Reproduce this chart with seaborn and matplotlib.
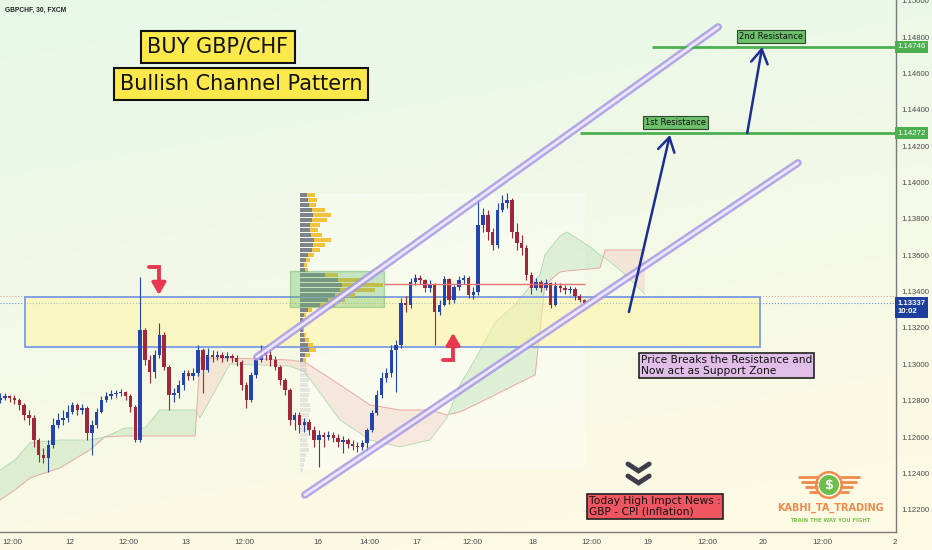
import numpy as np
import pandas as pd
import matplotlib.pyplot as plt
import matplotlib.patches as mpatches
import seaborn as sns

sns.set_theme(style="white")
plt.rcParams['font.family'] = ['DejaVu Sans']

# GBPCHF candles (1h), prices in points (1e-5)
close_pts = [112815, 112826, 112815, 112804, 112777, 112722, 112705, 112584, 112502, 112485,
             112557, 112667, 112694, 112705, 112738, 112777, 112749, 112760, 112623, 112667,
             112738, 112804, 112826, 112837, 112843, 112848, 112826, 112766, 112584, 113189,
             113024, 112958, 113052, 113162, 112986, 112832, 112843, 112887, 112953, 112936,
             112953, 113079, 112969, 113052, 113041, 113052, 113035, 113046, 113035, 113013,
             112887, 112804, 112942, 113024, 113068, 113052, 113024, 112986, 112914, 112859,
             112694, 112722, 112667, 112683, 112639, 112584, 112612, 112601, 112612, 112595,
             112573, 112584, 112562, 112551, 112546, 112568, 112639, 112733, 112832, 112925,
             112953, 113079, 113107, 113338, 113327, 113453, 113475, 113464, 113420, 113437,
             113288, 113327, 113470, 113354, 113426, 113464, 113475, 113382, 113398, 113767,
             113822, 113728, 113657, 113849, 113888, 113904, 113728, 113668, 113640, 113492,
             113420, 113453, 113420, 113448, 113327, 113431, 113420, 113409, 113415, 113376,
             113354, 113338]
high_pts = [112843, 112843, 112832, 112832, 112815, 112788, 112749, 112722, 112595, 112540,
            112584, 112705, 112733, 112749, 112777, 112793, 112788, 112782, 112771, 112694,
            112760, 112826, 112848, 112859, 112859, 112865, 112854, 112837, 112777, 113481,
            113200, 113052, 113079, 113228, 113178, 112997, 112870, 112914, 112969, 112969,
            112980, 113107, 113090, 113090, 113079, 113074, 113068, 113068, 113057, 113052,
            113024, 112903, 112958, 113041, 113107, 113090, 113079, 113046, 112997, 112925,
            112870, 112738, 112738, 112705, 112700, 112661, 112639, 112628, 112634, 112628,
            112617, 112606, 112595, 112584, 112573, 112584, 112650, 112749, 112859, 112958,
            112980, 113107, 113134, 113365, 113376, 113475, 113497, 113492, 113470, 113464,
            113448, 113354, 113486, 113475, 113437, 113486, 113492, 113486, 113426, 113932,
            113860, 113849, 113750, 113888, 113932, 113943, 113915, 113778, 113712, 113657,
            113508, 113475, 113464, 113470, 113453, 113453, 113448, 113437, 113431, 113426,
            113387, 113360]
low_pts = [112788, 112804, 112793, 112782, 112749, 112694, 112667, 112546, 112463, 112458,
           112408, 112540, 112650, 112667, 112683, 112727, 112722, 112727, 112584, 112502,
           112650, 112733, 112793, 112810, 112821, 112826, 112804, 112738, 112573, 112573,
           112997, 112898, 112925, 113035, 112969, 112749, 112793, 112815, 112859, 112914,
           112914, 112936, 112843, 112958, 113013, 113024, 113013, 113019, 113013, 112991,
           112859, 112760, 112793, 112925, 113013, 113024, 112991, 112969, 112887, 112832,
           112667, 112639, 112623, 112628, 112612, 112546, 112436, 112546, 112584, 112573,
           112546, 112513, 112540, 112529, 112518, 112529, 112529, 112628, 112722, 112815,
           112903, 112931, 112848, 113090, 113288, 113310, 113437, 113442, 113398, 113398,
           113107, 113272, 113321, 113332, 113338, 113409, 113442, 113365, 113360, 113382,
           113728, 113684, 113629, 113640, 113838, 113860, 113695, 113629, 113602, 113464,
           113387, 113409, 113398, 113409, 113310, 113321, 113398, 113387, 113393, 113354,
           113343, 113332]
first_open_pts = 112804

# ichimoku cloud (x in hours)
cloud_x = [0, 3.1, 6.2, 12.4, 18.6, 21.7, 25.9, 30.0, 33.1, 40.4, 41.4, 47.6, 60.0, 63.1,
           70.4, 76.6, 82.8, 89.0, 92.5, 95.2, 98.3, 102.5, 106.6, 110.8, 111.8, 112.8,
           115.9, 117.4, 122.2, 124.2, 125.3, 128.4, 133.5]
span_a_pts = [112419, 112474, 112568, 112584, 112584, 112601, 112650, 112650, 112749, 112749,
              112705, 113002, 112991, 112958, 112694, 112584, 112546, 112584, 112705, 112887,
              113024, 113233, 113327, 113464, 113492, 113602, 113706, 113728, 113646, 113602,
              113585, 113519, 113387]
span_b_pts = [112254, 112309, 112375, 112430, 112529, 112601, 112606, 112606, 112606, 112606,
              113035, 113035, 113024, 113013, 112887, 112777, 112749, 112749, 112722, 112738,
              112777, 112832, 112887, 112942, 113189, 113437, 113508, 113514, 113525, 113530,
              113629, 113629, 113629]

# volume profile rows (top -> bottom)
vp_down = [7, 8, 9, 12, 13, 12, 10, 10, 11, 14, 13, 12, 8, 6, 4, 5, 25, 38, 42, 40,
           35, 28, 20, 8, 4, 3, 3, 3, 4, 5, 8, 9, 5, 3]
vp_up = [8, 9, 7, 13, 18, 15, 10, 8, 11, 17, 12, 8, 6, 4, 3, 3, 13, 27, 41, 35,
         20, 17, 15, 4, 2, 2, 2, 1, 2, 4, 5, 7, 5, 3]
vp_faint = [6, 7, 8, 9, 8, 10, 9, 8, 10, 11, 9, 8, 10, 9, 8, 7, 8, 9, 6, 5, 4, 3]

# levels and drawings
res1, res2 = 1.14272, 1.14746
last_price = 1.13337
poc = 1.13442
zone_top, zone_bot = 1.13371, 1.13096
upper_ch_x, upper_ch_y = [53.2, 148.7], [1.13041, 1.14856]
lower_ch_x, lower_ch_y = [63.1, 165.2], [1.12282, 1.14108]
chevron_x = [130.0, 132.2, 134.4]
chevron_y = [[1.12452, 1.12414, 1.12452], [1.12386, 1.12348, 1.12386]]

xtick_pos = [2.5, 14.5, 26.5, 38.5, 50.5, 65.8, 76.4, 86.3, 97.9, 110.4, 122.4, 134.2,
             146.4, 158.0, 170.2, 185.3]
xtick_lab = ['12:00', '12', '12:00', '13', '12:00', '16', '14:00', '17', '12:00', '18',
             '12:00', '19', '12:00', '20', '12:00', '2']

axis_font = ['Liberation Sans', 'DejaVu Sans']

df = pd.DataFrame({'close': np.array(close_pts) / 1e5,
                   'hi': np.array(high_pts) / 1e5,
                   'lo': np.array(low_pts) / 1e5})
df['open'] = df['close'].shift(1).fillna(first_open_pts / 1e5)
df['high'] = df[['hi', 'open', 'close']].max(axis=1)
df['low'] = df[['lo', 'open', 'close']].min(axis=1)
df['x'] = np.arange(len(df))

fig = plt.figure(figsize=(9.32, 5.5), dpi=100)

# background gradient
bg = fig.add_axes([0, 0, 1, 1], zorder=-5)
gy = np.linspace(0, 1, 200)[:, None]
gx = np.linspace(0, 1, 200)[None, :]
t = np.clip(gy * 0.85 + gx * 0.25, 0, 1)
top = np.array([231, 248, 233]) / 255
bot = np.array([253, 250, 228]) / 255
img = top * (1 - t[..., None]) + bot * t[..., None]
bg.imshow(img, aspect='auto', extent=[0, 1, 0, 1], origin='upper')
bg.axis('off')

ax = fig.add_axes([0, 18 / 550, 896 / 932, 532 / 550])
ax.patch.set_alpha(0)
ax.set_xlim(0, 185.5)
ax.set_ylim(1.12078, 1.15004)

# profile range shading
ax.add_patch(mpatches.Rectangle((62.1, 1.12419), 59.0, 1.13943 - 1.12419,
                                fc='white', alpha=0.35, ec='none', zorder=0.5))

# ichimoku cloud
a = np.array(span_a_pts) / 1e5
b = np.array(span_b_pts) / 1e5
ax.fill_between(cloud_x, a, b, where=a >= b, interpolate=True, color='#81c784', alpha=0.22, lw=0, zorder=1)
ax.fill_between(cloud_x, a, b, where=a < b, interpolate=True, color='#e57373', alpha=0.14, lw=0, zorder=1)
ax.plot(cloud_x, b, color='#e6aaa4', lw=0.7, zorder=1.1)
ax.plot(cloud_x, a, color='#b2d9aa', lw=0.6, zorder=1.1)

# support zone
ax.add_patch(mpatches.Rectangle((5.2, zone_bot), 152.1, zone_top - zone_bot,
                                fc='#fff59d', alpha=0.5, ec='none', zorder=1.5))
ax.add_patch(mpatches.Rectangle((5.2, zone_bot), 152.1, zone_top - zone_bot,
                                fill=False, ec='#7b9ce6', lw=1.3, zorder=1.6))
ax.axhline(1.13378, color='#e0a0a0', ls=':', lw=0.8, zorder=1.4)
ax.axhline(last_price, color='#6d8fe0', ls=':', lw=0.8, zorder=1.4)

# volume profile
lv = np.linspace(1.13932, 1.13024, len(vp_down))
sc = 1 / 4.83
dn = np.array(vp_down) * sc
upv = np.array(vp_up) * sc
ax.barh(lv, dn, left=62.1, height=0.0002, color='#7f848c', lw=0, zorder=2)
ax.barh(lv, upv, left=62.1 + dn, height=0.0002, color='#f2c23c', lw=0, zorder=2)
lv2 = np.linspace(1.12997, 1.12419, len(vp_faint))
ax.barh(lv2, np.array(vp_faint) * sc, left=62.1, height=0.0002, color='#9a9ea6', alpha=0.22, lw=0, zorder=2)
ax.add_patch(mpatches.Rectangle((60.0, 1.13316), 19.5, 1.13514 - 1.13316,
                                fc='#66bb6a', alpha=0.35, ec='#43a047', lw=1, zorder=2.2))

# candles
up = df['close'] >= df['open']
cols = np.where(up, '#2445b0', '#a3273a')
ax.vlines(df['x'], df['low'], df['high'], colors=cols, lw=0.8, zorder=3)
body = (df['close'] - df['open']).to_numpy()
body = np.where(np.abs(body) < 3e-5, 3e-5, body)
ax.bar(df['x'], body, bottom=df['open'], width=0.72, color=cols, lw=0, zorder=3)

ax.hlines(poc, 79.5, 121.1, color='#e57373', lw=1, zorder=3.5)

# channel lines
for cx, cy in [(upper_ch_x, upper_ch_y), (lower_ch_x, lower_ch_y)]:
    sns.lineplot(x=cx, y=cy, ax=ax, color='#a898e6', lw=5.5, alpha=0.85, zorder=4)
    sns.lineplot(x=cx, y=cy, ax=ax, color='#ebe6fc', lw=2, zorder=4.1)

# resistance lines
ax.hlines(res1, 120.1, 185.5, color='#4caf50', lw=2, zorder=4)
ax.hlines(res2, 135.0, 185.5, color='#4caf50', lw=2, zorder=4)
box_kw = dict(boxstyle='square,pad=0.25', fc='#6dbf6b', ec='#2d4a2d', lw=0.8)
ax.text(139.8, 1.14328, '1st Resistance', ha='center', va='center', fontsize=6, color='#111', bbox=box_kw, zorder=6)
ax.text(159.6, 1.14803, '2nd Resistance', ha='center', va='center', fontsize=6, color='#111', bbox=box_kw, zorder=6)

# blue arrows
for (x0, y0, x1, y1) in [(130.2, 1.13288, 138.7, 1.14262), (154.7, 1.14272, 157.8, 1.14746)]:
    ax.annotate('', xy=(x1, y1), xytext=(x0, y0),
                arrowprops=dict(arrowstyle='->,head_length=0.5,head_width=0.3', color='#1b2f93',
                                lw=1.8, mutation_scale=20, shrinkA=0, shrinkB=0), zorder=6)

# red bent arrows
red = '#e8384f'
ax.plot([30.85, 32.9, 32.9], [1.13536, 1.13536, 1.13440], color=red, lw=2.8, solid_joinstyle='miter', zorder=6)
ax.annotate('', xy=(32.9, 1.13382), xytext=(32.9, 1.13450),
            arrowprops=dict(arrowstyle='-|>,head_length=0.6,head_width=0.35', color=red, lw=2.5,
                            mutation_scale=12, shrinkA=0, shrinkB=0), zorder=6)
ax.plot([91.7, 93.8, 93.8], [1.13024, 1.13024, 1.13115], color=red, lw=2.8, solid_joinstyle='miter', zorder=6)
ax.annotate('', xy=(93.8, 1.13173), xytext=(93.8, 1.13105),
            arrowprops=dict(arrowstyle='-|>,head_length=0.6,head_width=0.35', color=red, lw=2.5,
                            mutation_scale=12, shrinkA=0, shrinkB=0), zorder=6)

# notes
ax.text(132.7, 1.12994, 'Price Breaks the Resistance and\nNow act as Support Zone', ha='left', va='center',
        fontsize=7.7, color='#111', linespacing=1.1,
        bbox=dict(boxstyle='square,pad=0.2', fc='#e1bee7', ec='#222', lw=1.2), zorder=6)
ax.text(121.9, 1.12218, 'Today High Impct News :\nGBP - CPI (Inflation)', ha='left', va='center',
        fontsize=7.7, color='#111', linespacing=1.1,
        bbox=dict(boxstyle='square,pad=0.2', fc='#ef5662', ec='#222', lw=1.2), zorder=6)
for cy in chevron_y:
    ax.plot(chevron_x, cy, color='#3e3e4a', lw=3.5, solid_joinstyle='miter', zorder=6)

# axes styling
ax.yaxis.tick_right()
yt = np.arange(1.122, 1.1505, 0.002)
ax.set_yticks(yt)
ax.set_yticklabels([f'{v:.5f}' for v in yt], family=axis_font)
ax.set_xticks(xtick_pos)
ax.set_xticklabels(xtick_lab, family=axis_font)
ax.tick_params(axis='y', length=0, pad=4, labelsize=5.6, labelcolor='#4a4a4a')
ax.tick_params(axis='x', length=0, pad=5, labelsize=5.8, labelcolor='#4a4a4a')
for s in ['top', 'left']:
    ax.spines[s].set_visible(False)
for s in ['right', 'bottom']:
    ax.spines[s].set_color('#7a7a7a')
    ax.spines[s].set_linewidth(1)
ax.grid(False)
ax.set_xlabel('')
ax.set_ylabel('')

def price_tag(y, txt, fc, weight='normal'):
    ax.annotate(txt, xy=(1, y), xycoords=('axes fraction', 'data'), xytext=(1.2, 0),
                textcoords='offset points', ha='left', va='center', fontsize=5.6, color='white',
                family=axis_font, fontweight=weight, linespacing=1.3,
                bbox=dict(boxstyle='square,pad=0.3', fc=fc, ec='none'), annotation_clip=False, zorder=7)

price_tag(res2, '1.14746', '#4caf50')
price_tag(res1, '1.14272', '#4caf50')
price_tag(1.13313, '1.13337\n10:02', '#1c3f9e', 'bold')

# header texts
fig.text(5 / 932, 1 - 10 / 550, 'GBPCHF, 30, FXCM', fontsize=4.8, fontweight='bold', color='#222',
         va='center', family=axis_font)
fig.text(218 / 932, 1 - 47 / 550, 'BUY GBP/CHF', ha='center', va='center', fontsize=15, color='#111',
         bbox=dict(boxstyle='square,pad=0.3', fc='#fbe84b', ec='#111', lw=1.5))
fig.text(241 / 932, 1 - 84 / 550, 'Bullish Channel Pattern', ha='center', va='center', fontsize=15, color='#111',
         bbox=dict(boxstyle='square,pad=0.28', fc='#fbe84b', ec='#111', lw=1.5))

# logo
lg = fig.add_axes([780 / 932, 1 - 505 / 550, 100 / 932, 40 / 550])
lg.set_xlim(780, 880)
lg.set_ylim(505, 465)
lg.axis('off')
orange = '#f08a4b'
for yy, x0 in [(477, 798), (482, 801), (487, 805), (492, 809)]:
    lg.plot([x0, 818], [yy, yy], color=orange, lw=2, solid_capstyle='butt')
    lg.plot([840, 1658 - x0], [yy, yy], color=orange, lw=2, solid_capstyle='butt')
lg.add_patch(mpatches.Circle((829, 485), 14, fc=orange, ec='none'))
lg.add_patch(mpatches.Circle((829, 485), 11.5, fc='white', ec='none'))
lg.add_patch(mpatches.Circle((829, 485), 10, fc='#6cbf4a', ec='none'))
lg.text(829, 485, '$', ha='center', va='center', color='white', fontsize=9, fontweight='bold')
fig.text(830 / 932, 1 - 508 / 550, 'KABHI_TA_TRADING', ha='center', va='center', color=orange,
         fontsize=7, fontweight='bold')
fig.text(830 / 932, 1 - 520 / 550, 'TRAIN THE WAY YOU FIGHT', ha='center', va='center', color='#7cc24a',
         fontsize=3.8, fontweight='bold')

fig.savefig('out.png', dpi=100)
